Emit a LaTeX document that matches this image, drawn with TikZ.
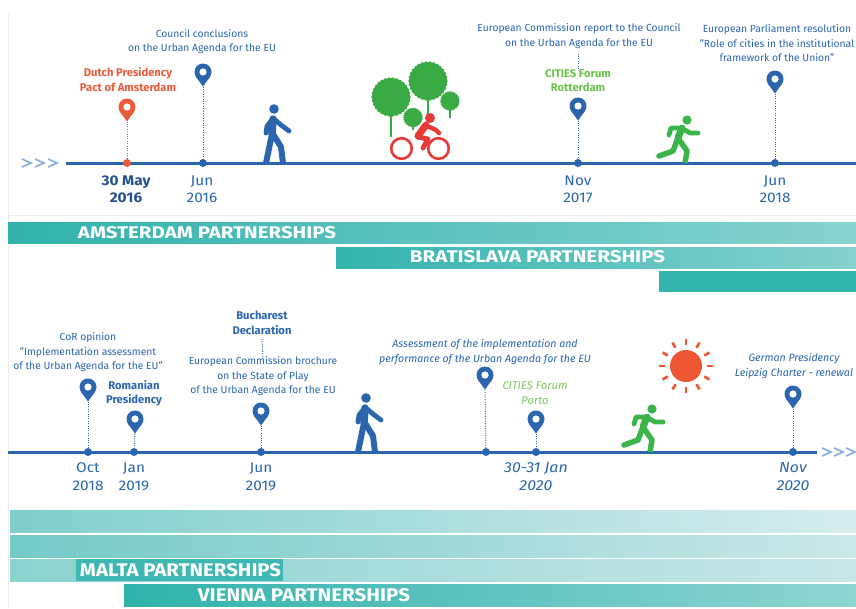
\documentclass[tikz,border=0pt]{standalone}
\usepackage{fontspec}
\setmainfont{Fira Sans}
\newfontfamily\datefont{Fira Sans}[FakeStretch=1.1]
\usepackage{graphicx}
\definecolor{ecblue}{HTML}{2A65AE}
\definecolor{navy}{HTML}{24508F}
\definecolor{dutch}{HTML}{EA5B3C}
\definecolor{citygreen}{HTML}{6CC24B}
\definecolor{portogreen}{HTML}{7DC65C}
\definecolor{rungreen}{HTML}{3BB54A}
\definecolor{treegreen}{HTML}{3AAA45}
\definecolor{bikered}{HTML}{E63A36}
\definecolor{sunred}{HTML}{EE5533}
\definecolor{chev}{HTML}{8AB0DA}
\definecolor{frame}{RGB}{236,236,236}
% partnership bar colours
\definecolor{amstL}{RGB}{50,178,173}
\definecolor{amstR}{RGB}{136,211,208}
\definecolor{bratL}{RGB}{52,179,174}
\definecolor{bratR}{RGB}{134,210,207}
\definecolor{tealsolid}{RGB}{52,180,175}
\definecolor{lowaL}{RGB}{128,207,204}
\definecolor{lowaR}{RGB}{214,237,237}
\definecolor{lowbL}{RGB}{116,202,199}
\definecolor{lowbR}{RGB}{203,232,232}
\definecolor{maltaL}{RGB}{140,211,208}
\definecolor{maltaR}{RGB}{200,231,231}
\definecolor{maltabox}{RGB}{63,183,178}
\definecolor{viennaL}{RGB}{48,178,173}
\definecolor{viennaR}{RGB}{143,213,210}
\tikzset{
  pics/mappin/.style={code={
    \fill[#1] (-6.88,4.98) -- (0,14.5) -- (6.88,4.98) -- cycle;
    \fill[#1] (0,0) circle (8.5);
    \fill[white] (0,0) circle (3.6);
    \coordinate (-tip) at (0,14.5);
  }},
  pics/walker/.style={code={
    \fill[#1] (-1,-54) circle (4.8);
    \draw[#1, line width=7.5pt, line cap=round] (-2,-44) -- (-3,-29);
    \draw[#1, line width=4.8pt, line cap=round, line join=round] (-3,-43) -- (-8,-37) -- (-9,-30);
    \draw[#1, line width=4.8pt, line cap=round, line join=round] (-1,-44) -- (6,-38) -- (14,-32);
    \draw[#1, line width=6pt] (-3,-29) -- (-9,0);
    \draw[#1, line width=6pt, line join=round] (-2,-29) -- (6,-16) -- (8,0);
  }},
  pics/runner/.style={code={
    \fill[#1] (7,-43) circle (4.6);
    \draw[#1, line width=7pt, line cap=round] (2,-35) -- (-2,-25);
    \draw[#1, line width=4.8pt, line cap=round, line join=round] (1,-35) -- (-9,-35) -- (-11,-28);
    \draw[#1, line width=4.8pt, line cap=round, line join=round] (3,-34) -- (10,-30) -- (18,-30);
    \draw[#1, line width=5.5pt, line join=round] (-2,-25) -- (7,-12) -- (5,0);
    \draw[#1, line width=5.5pt, line cap=round, line join=round] (-2,-25) -- (-7,-12) -- (-21,-7);
  }},
  pics/tree/.style n args={2}{code={
    \draw[treegreen, line width=2.6pt] (0,0) -- (0,#2);
    \fill[treegreen] (0,0) circle (#1);
    \foreach \a in {0,12,...,348} \fill[treegreen] (\a:#1) circle (0.9);
  }},
}
\begin{document}
\begin{tikzpicture}[x=1pt,y=-1pt,
  desc/.style={inner sep=0, align=center, text=ecblue, font=\fontsize{10.3}{14.5}\selectfont},
  descb/.style={inner sep=0, align=center, text=ecblue, font=\bfseries\fontsize{11.2}{14.5}\selectfont},
  desci/.style={inner sep=0, align=center, text=ecblue, font=\itshape\fontsize{10.6}{15}\selectfont},
  datelbl/.style={inner sep=0, align=center, text=ecblue, font=\datefont\fontsize{14}{17}\selectfont},
  datelbli/.style={inner sep=0, align=center, text=ecblue, font=\datefont\itshape\fontsize{14.5}{18}\selectfont},
  dot/.style={circle, inner sep=0, minimum size=8pt, fill=ecblue},
  timeline/.style={line width=3pt, ecblue},
  dotline/.style={ecblue, line width=1pt, dash pattern=on 1pt off 1.4pt},
  chevron/.style={chev, line width=1.7pt},
  barlabel/.style={inner sep=0, text=white, font=\bfseries},
]
\useasboundingbox (0,0) rectangle (856,608);
\fill[white] (0,0) rectangle (856,608);
% faint page frame
\draw[frame, line width=0.8pt] (8.5,14) -- (8.5,608);
\draw[frame, line width=0.8pt] (8.5,215) -- (856,215);

% ---------- upper timeline ----------
\foreach \x in {22,35,48} \draw[chevron] (\x,159) -- (\x+9,163) -- (\x,167);
\coordinate (topstart) at (66,163);
\coordinate (topend) at (856,163);
\draw[timeline] (topstart) -- (topend);

\node[dot, fill=dutch] (dDutch) at (127,163) {};
\node[dot] (dJun16) at (203,163) {};
\node[dot] (dNov17) at (578,163) {};
\node[dot] (dJun18) at (775,163) {};

\pic (pDutch) at (127,107) {mappin=dutch};
\pic (pJun16) at (203,72) {mappin=ecblue};
\pic (pNov17) at (578,106) {mappin=ecblue};
\pic (pJun18) at (775,79) {mappin=ecblue};

\draw[dotline, dutch] (pDutch-tip) -- (dDutch);
\draw[dotline] (pJun16-tip) -- (dJun16);
\draw[dotline] (pNov17-tip) -- (dNov17);
\draw[dotline] (pJun18-tip) -- (dJun18);

\node[desc] (council) at (202,41.5) {Council conclusions\\on the Urban Agenda for the EU};
\node[descb, text=dutch] (dutchtxt) at (128,79.5) {Dutch Presidency\\Pact of Amsterdam};
\node[desc] (ecreport) at (579,36) {European Commission report to the Council\\on the Urban Agenda for the EU};
\node[descb, text=citygreen] (rotterdam) at (578,80.5) {CITIES Forum\\Rotterdam};
\node[desc] (parliament) at (777,43.5) {European Parliament resolution\\"Role of cities in the institutional\\framework of the Union"};
\draw[dotline] (ecreport.south -| rotterdam.north) ++(0,5) -- (rotterdam.north);

\node[datelbl, font=\datefont\bfseries\fontsize{14}{17}\selectfont, text=navy] (lDutch) at (126,189.5) {30 May\\2016};
\node[datelbl] (lJun16) at (202,189.5) {Jun\\2016};
\node[datelbl] (lNov17) at (578,189.5) {Nov\\2017};
\node[datelbl] (lJun18) at (775,189.5) {Jun\\2018};

% icons on the upper line
\pic at (275,163) {walker=ecblue};
\pic at (391,97) {tree={19}{40}};
\pic at (428,81) {tree={19}{38}};
\pic at (450,101) {tree={9}{17}};
\pic at (413,117.5) {tree={9}{12}};
\begin{scope}[bikered]
  \draw[line width=2.6pt] (401.5,148.5) circle (10.3);
  \draw[line width=2.6pt] (438.5,148.5) circle (10.3);
  \fill (430,118) circle (5);
  \draw[line width=7pt, line cap=round] (418,136) -- (426,125);
  \draw[line width=4.5pt, line cap=round, line join=round] (427,126) -- (436,130) -- (439,133);
  \draw[line width=5pt, line cap=round, line join=round] (418,137) -- (428,139) -- (423,148);
\end{scope}
\pic at (680,163) {runner=rungreen};

% ---------- partnership bars (upper) ----------
\fill[left color=amstL, right color=amstR] (8,222) rectangle (856,243);
\fill[left color=bratL, right color=bratR] (336,247) rectangle (856,268);
\fill[tealsolid] (659,271) rectangle (856,292);
\node[barlabel] (amsterdam) at (207,233) {\resizebox{258pt}{12pt}{AMSTERDAM PARTNERSHIPS}};
\node[barlabel] (bratislava) at (537.5,257) {\resizebox{255pt}{12pt}{BRATISLAVA PARTNERSHIPS}};

% ---------- lower timeline ----------
\coordinate (botstart) at (8,452);
\coordinate (botend) at (817,452);
\draw[timeline] (botstart) -- (botend);
\foreach \x in {822,834,846} \draw[chevron] (\x,448) -- (\x+9,452) -- (\x,456);

\node[dot] (dOct18) at (88,452) {};
\node[dot] (dJan19) at (134,452) {};
\node[dot] (dJun19) at (261,452) {};
\node[dot] (dAssess) at (486,452) {};
\node[dot] (dPorto) at (536,452) {};
\node[dot] (dNov20) at (793,452) {};

\pic (pOct18) at (88,387) {mappin=ecblue};
\pic (pJan19) at (135,419) {mappin=ecblue};
\pic (pJun19) at (261,411) {mappin=ecblue};
\pic (pAssess) at (485,375) {mappin=ecblue};
\pic (pPorto) at (536,419) {mappin=ecblue};
\pic (pNov20) at (793,394) {mappin=ecblue};

\draw[dotline] (pOct18-tip) -- (dOct18);
\draw[dotline] (pJan19-tip) -- (dJan19);
\draw[dotline] (pJun19-tip) -- (dJun19);
\draw[dotline] (pAssess-tip) -- (dAssess);
\draw[dotline] (pPorto-tip) -- (dPorto);
\draw[dotline] (pNov20-tip) -- (dNov20);

\node[desc] (cor) at (88,352.5) {CoR opinion\\"Implementation assessment\\of the Urban Agenda for the EU"};
\node[descb] (romanian) at (134,393) {Romanian\\Presidency};
\node[descb] (bucharest) at (262,323) {Bucharest\\Declaration};
\node[desc] (brochure) at (263,376.5) {European Commission brochure\\on the State of Play\\of the Urban Agenda for the EU};
\draw[dotline] (bucharest.south) ++(0,4) -- ([yshift=-4pt]brochure.north);
\node[desci] (assessment) at (485,352) {Assessment of the implementation and\\performance of the Urban Agenda for the EU};
\node[desci, text=portogreen, font=\itshape\fontsize{11.2}{14.5}\selectfont] (porto) at (535,393) {CITIES Forum\\Porto};
\node[desci] (german) at (794,366.5) {German Presidency\\Leipzig Charter - renewal};

\node[datelbl, font=\datefont\fontsize{14}{18}\selectfont] (lOct18) at (88,477) {Oct\\2018};
\node[datelbl, font=\datefont\fontsize{14}{18}\selectfont] (lJan19) at (134,477) {Jan\\2019};
\node[datelbl, font=\datefont\fontsize{14}{18}\selectfont] (lJun19) at (261,477) {Jun\\2019};
\node[datelbli] (lPorto) at (536,477) {30-31 Jan\\2020};
\node[datelbli] (lNov20) at (793,477) {Nov\\2020};

% icons on the lower line
\pic at (367,452) {walker=ecblue};
\pic at (645,452) {runner=rungreen};
\fill[sunred] (686,366) circle (16);
\foreach \a in {0,30,...,330} \draw[sunred, line width=2.6pt] (686,366) ++(\a:21) -- ++(\a:6);

% ---------- partnership bars (lower) ----------
\fill[left color=lowaL, right color=lowaR] (10,510) rectangle (856,532);
\fill[left color=lowbL, right color=lowbR] (10,535) rectangle (856,557);
\fill[left color=maltaL, right color=maltaR] (10,559) rectangle (856,581);
\fill[maltabox] (76,559) rectangle (283,581);
\fill[left color=viennaL, right color=viennaR] (124,584) rectangle (856,606);
\node[barlabel] (malta) at (180.5,570.5) {\resizebox{201pt}{13pt}{MALTA PARTNERSHIPS}};
\node[barlabel] (vienna) at (304,595.5) {\resizebox{212pt}{13pt}{VIENNA PARTNERSHIPS}};
\end{tikzpicture}
\end{document}
